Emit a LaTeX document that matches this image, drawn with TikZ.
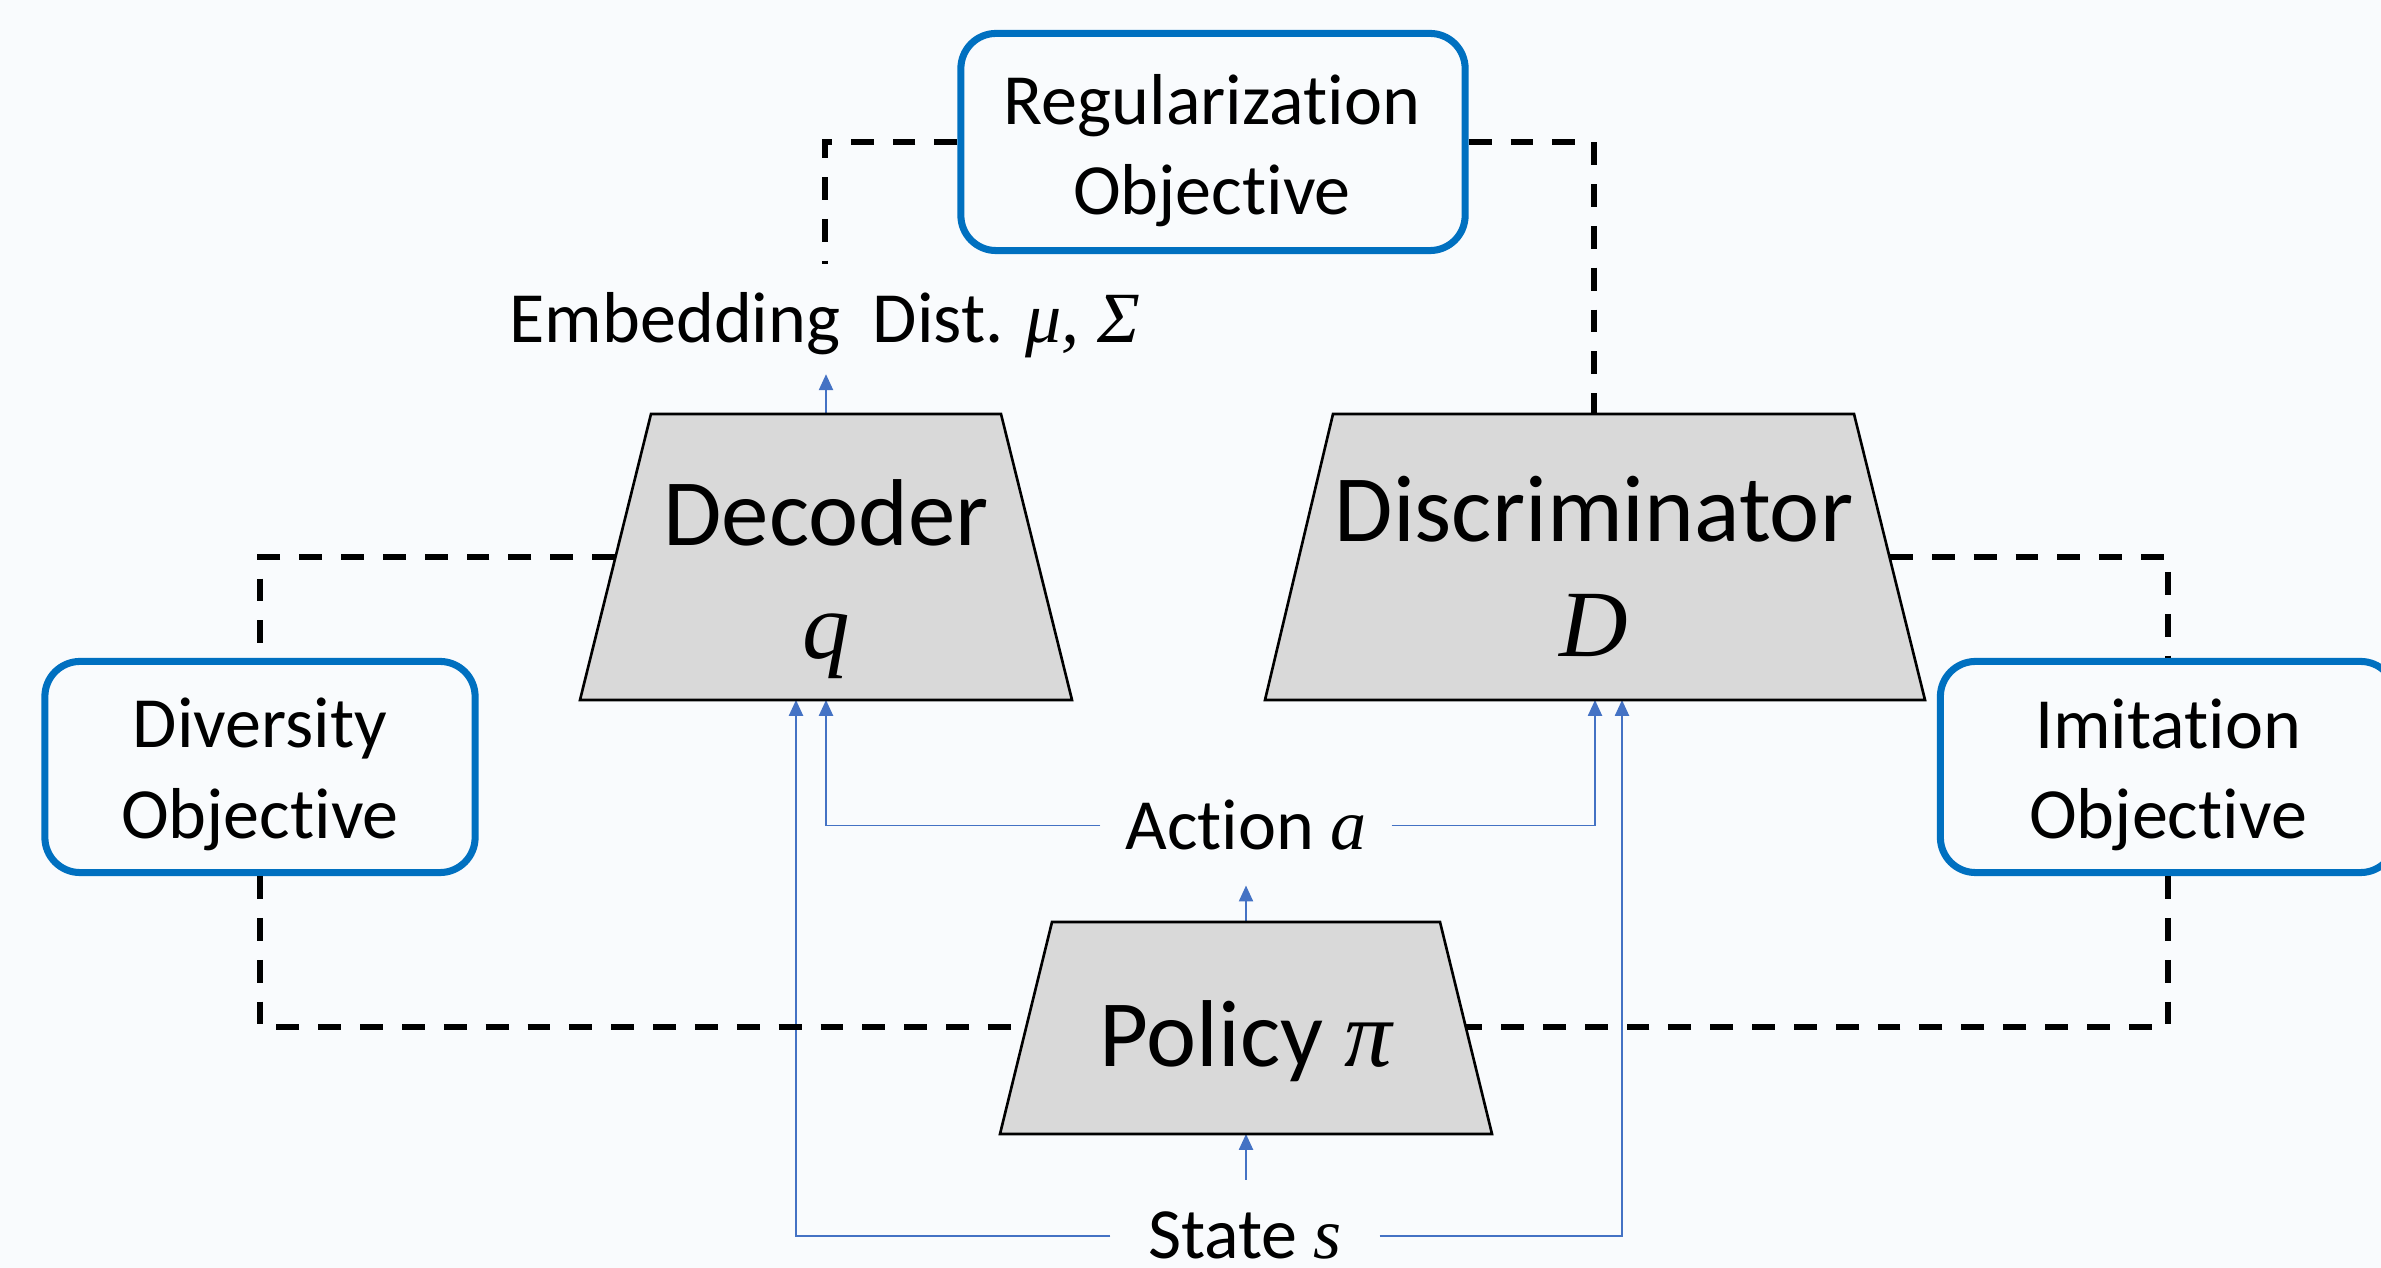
\documentclass[tikz,border=0pt]{standalone}
\usepackage{fontspec}
\setmainfont{Carlito}[Ligatures=NoCommon]
\newfontfamily\varfont{Liberation Serif}
\usetikzlibrary{arrows.meta}
\definecolor{bgc}{RGB}{249,251,253}
\definecolor{objblue}{RGB}{0,112,192}
\definecolor{arrblue}{RGB}{68,114,196}
\definecolor{netgray}{RGB}{217,217,217}
\newcommand{\mvar}[1]{{\varfont\itshape #1}}
\begin{document}
\begin{tikzpicture}[x=0.01cm,y=-0.01cm,
  objbox/.style={draw=objblue, line width=2pt, rounded corners=10pt, inner sep=0pt},
  small/.style={font=\fontsize{20.5}{25.6}\selectfont, inner sep=0pt, anchor=base},
  big/.style={font=\fontsize{27}{32}\selectfont, inner sep=0pt, anchor=base},
  net/.style={draw=black, line width=0.75pt, fill=netgray, line join=miter},
  link/.style={draw=black, line width=1.8pt, dash pattern=on 6.5pt off 5.4pt},
  flow/.style={draw=arrblue, line width=0.5pt, -{Triangle[length=4.5pt,width=4pt]}},
]
\fill[bgc] (0,0) rectangle (2381,1268);
\useasboundingbox (0,0) rectangle (2381,1268);

% attachment coordinates
\coordinate (dectop) at (826,414);
\coordinate (decinA) at (826,700);
\coordinate (decinS) at (796,700);
\coordinate (decleft) at (615,557);
\coordinate (disctop) at (1594,414);
\coordinate (discinA) at (1595,700);
\coordinate (discinS) at (1622,700);
\coordinate (discright) at (1890,557);
\coordinate (poltop) at (1246,922);
\coordinate (polbot) at (1246,1134);
\coordinate (polleft) at (1026,1027);
\coordinate (polright) at (1466,1027);

% objective boxes
\node[objbox, minimum width=5.04cm, minimum height=2.17cm] (regbox) at (1213,142) {};
\node[small] (regt1) at (1212,125) {Regularization};
\node[small] (regt2) at (1212,215) {Objective};
\node[objbox, minimum width=4.30cm, minimum height=2.11cm] (divbox) at (260,767) {};
\node[small] (divt1) at (260,748) {Diversity};
\node[small] (divt2) at (260,839) {Objective};
\node[objbox, minimum width=4.55cm, minimum height=2.11cm] (imibox) at (2168,767) {};
\node[small] (imit1) at (2168,749) {Imitation};
\node[small] (imit2) at (2168,839) {Objective};

% labels
\node[small, inner sep=4.3pt] (emb) at (825,343) {Embedding~ Dist. \mvar{μ, Σ}};
\node[small, inner xsep=6.9pt, inner ysep=9.7pt] (act) at (1246,850) {Action \mvar{a}};
\node[small, inner xsep=10.5pt, inner ysep=9pt] (state) at (1245,1259) {State \mvar{s}};

% blue flows
\draw[flow] (dectop) -- (dectop |- emb.south);
\draw[flow] (poltop) -- (poltop |- act.south);
\draw[flow] (polbot |- state.north) -- (polbot);
\draw[flow] (act.west) -| (decinA);
\draw[flow] (act.east) -| (discinA);
\draw[flow] (state.west) -| (decinS);
\draw[flow] (state.east) -| (discinS);

% dashed links
\draw[link] (regbox.west) -| ([yshift=3.7pt]emb.north);
\draw[link] (regbox.east) -| (disctop);
\draw[link] (decleft) -| (divbox.north);
\draw[link] (divbox.south) |- (polleft);
\draw[link] (discright) -| (imibox.north);
\draw[link] (imibox.south) |- (polright);

% networks
\draw[net] (651,414) -- (1001,414) -- (1072,700) -- (580,700) -- cycle;
\draw[net] (1333,414) -- (1854,414) -- (1925,700) -- (1265,700) -- cycle;
\draw[net] (1052,922) -- (1440,922) -- (1492,1134) -- (1000,1134) -- cycle;
\node[big] (dectxt) at (826,546) {Decoder};
\node[big] (decq) at (826,659) {\mvar{q}};
\node[big] (disctxt) at (1594,542) {Discriminator};
\node[big] (discD) at (1594,657) {\mvar{D}};
\node[big] (poltxt) at (1246,1067) {Policy \mvar{π}};
\end{tikzpicture}
\end{document}
